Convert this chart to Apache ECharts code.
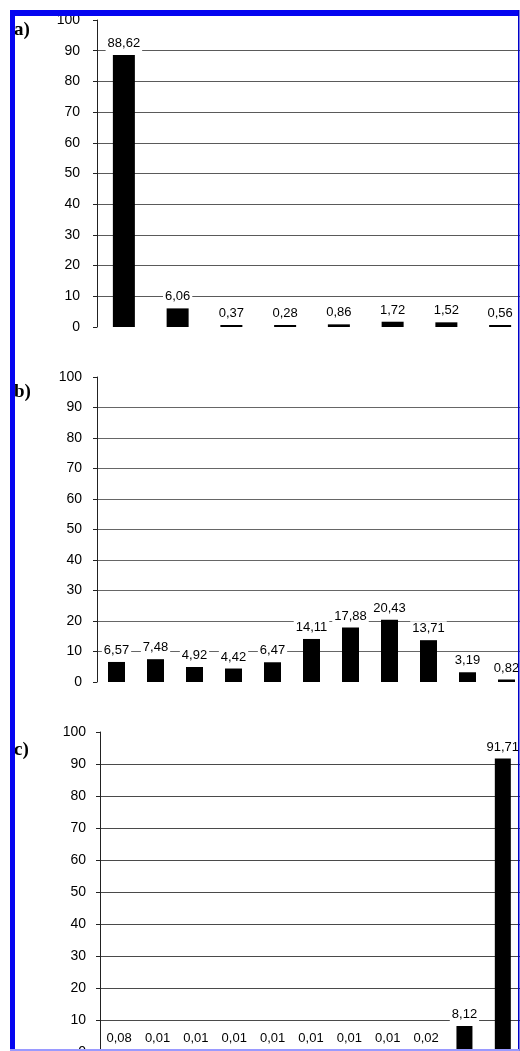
<!DOCTYPE html>
<html>
<head>
<meta charset="utf-8">
<script src="https://cdn.jsdelivr.net/npm/echarts@6/dist/echarts.min.js"></script>
<style>
  html, body { margin: 0; padding: 0; background: #fff; }
  #chart { width: 520px; height: 1051px; }
</style>
</head>
<body>
<div id="chart"></div>
<script>
// values
const catsA = ['1', '2', '3', '4', '5', '6', '7', '8'];
const valuesA = [88.62, 6.06, 0.37, 0.28, 0.86, 1.72, 1.52, 0.56];

const catsB = ['1', '2', '3', '4', '5', '6', '7', '8', '9', '10', '11'];
const valuesB = [6.57, 7.48, 4.92, 4.42, 6.47, 14.11, 17.88, 20.43, 13.71, 3.19, 0.82];

const catsC = ['1', '2', '3', '4', '5', '6', '7', '8', '9', '10', '11'];
const valuesC = [0.08, 0.01, 0.01, 0.01, 0.01, 0.01, 0.01, 0.01, 0.02, 8.12, 91.71];

const panelNames = ['a)', 'b)', 'c)'];
const yMin = 0, yMax = 100, yStep = 10;

const FONT = '"Liberation Sans", Arial, sans-serif';

// the panels run off the right edge in the scan, hence negative right
const grids = [
  { left: 97, right: -7, top: 20, height: 307, outerBoundsMode: 'none' },
  { left: 97, right: -6, top: 377, height: 305, outerBoundsMode: 'none' },
  { left: 100, right: -2, top: 732, height: 320, outerBoundsMode: 'none' }
];
const gridColors = ['#5a5a5a', '#666', '#4a4a4a'];
const barWidths = [22, 17, 16];
const labelMargins = [17, 15, 14];
const panels = [[catsA, valuesA], [catsB, valuesB], [catsC, valuesC]];

const chart = echarts.init(document.getElementById('chart'), null, { renderer: 'canvas' });

const fmt = p => p.value.toFixed(2).replace('.', ',');

const option = {
  animation: false,
  backgroundColor: '#fff',
  grid: grids,
  xAxis: panels.map((p, i) => ({
    type: 'category',
    gridIndex: i,
    data: p[0],
    axisLine: { show: false },
    axisTick: { show: false },
    axisLabel: { show: false }
  })),
  yAxis: panels.map((p, i) => ({
    type: 'value',
    gridIndex: i,
    min: yMin,
    max: yMax,
    interval: yStep,
    axisLine: { show: true, lineStyle: { color: '#222', width: 1 } },
    axisTick: { show: true, length: 4, lineStyle: { color: '#222' } },
    axisLabel: { color: '#000', fontSize: 14, fontFamily: FONT, margin: labelMargins[i] },
    splitLine: {
      show: true,
      showMinLine: false,
      showMaxLine: false,
      lineStyle: { color: gridColors[i], width: 1 }
    }
  })),
  series: panels.map((p, i) => ({
    type: 'bar',
    xAxisIndex: i,
    yAxisIndex: i,
    data: p[1],
    barWidth: barWidths[i],
    barMinHeight: 2,
    itemStyle: { color: '#000' },
    label: {
      show: true,
      position: 'top',
      distance: 4,
      formatter: fmt,
      color: '#000',
      fontSize: 13,
      fontFamily: FONT,
      backgroundColor: '#fff',
      padding: [1, 2]
    }
  })),
  graphic: [
    ...panelNames.map((t, i) => ({
      type: 'text',
      left: 14,
      top: [21, 383, 741][i],
      z: 50,
      style: {
        text: t,
        fill: '#000',
        fontSize: 19,
        fontWeight: 'bold',
        fontFamily: '"Liberation Serif", "Times New Roman", serif'
      }
    })),
    { type: 'rect', z: 100, shape: { x: 10, y: 10, width: 509, height: 6 }, style: { fill: '#0505f0' } },
    { type: 'rect', z: 100, shape: { x: 10, y: 10, width: 5, height: 1041 }, style: { fill: '#0505f0' } },
    { type: 'rect', z: 100, shape: { x: 518, y: 10, width: 1.5, height: 1041 }, style: { fill: '#0000c8' } },
    { type: 'rect', z: 100, shape: { x: 10, y: 1049, width: 509, height: 2 }, style: { fill: '#9a9aff' } }
  ]
};

chart.setOption(option);
window.addEventListener('resize', () => chart.resize());
</script>
</body>
</html>
